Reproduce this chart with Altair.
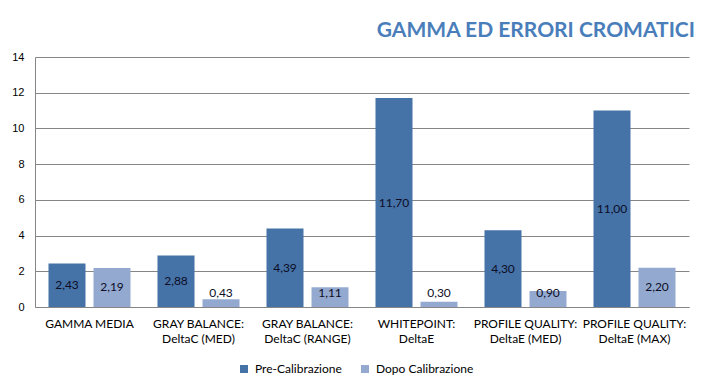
import altair as alt
import pandas as pd

categories = [
    "GAMMA MEDIA",
    "GRAY BALANCE:|DeltaC (MED)",
    "GRAY BALANCE:|DeltaC (RANGE)",
    "WHITEPOINT:|DeltaE",
    "PROFILE QUALITY:|DeltaE (MED)",
    "PROFILE QUALITY:|DeltaE (MAX)",
]
series = ["Pre-Calibrazione", "Dopo Calibrazione"]
pre_values = [2.43, 2.88, 4.39, 11.70, 4.30, 11.00]
post_values = [2.19, 0.43, 1.11, 0.30, 0.90, 2.20]
y_ticks = [0, 2, 4, 6, 8, 10, 12, 14]
colors = ["#4572A7", "#93A9CF"]

rows = []
for c, a, b in zip(categories, pre_values, post_values):
    rows.append({"cat": c, "serie": series[0], "v": a})
    rows.append({"cat": c, "serie": series[1], "v": b})
df = pd.DataFrame(rows)

FONT = "Lato"

x = alt.X("cat:N", sort=categories, title=None,
          scale=alt.Scale(paddingInner=0, paddingOuter=0),
          axis=alt.Axis(labelExpr="split(datum.label, '|')", labelAngle=0,
                        labelFont=FONT, labelFontSize=12, labelColor="#000000",
                        labelPadding=11, labelLineHeight=15, labelBaseline="top",
                        ticks=False, domainColor="#868686", labelLimit=200))
xo = alt.XOffset("serie:N", sort=series,
                 scale=alt.Scale(paddingInner=0.178, paddingOuter=0.3))

yaxis = alt.Axis(values=y_ticks, ticks=False, labelOverlap=False,
                 labelFont="Liberation Sans", labelFontSize=11,
                 labelColor="#000000", labelPadding=11,
                 gridColor="#868686", domainColor="#868686")
yscale = alt.Scale(domain=[0, 14], nice=False)

base = alt.Chart(df)

bars = base.mark_bar().encode(
    x=x,
    xOffset=xo,
    y=alt.Y("v:Q", title=None, scale=yscale, axis=yaxis),
    color=alt.Color("serie:N", sort=series,
                    scale=alt.Scale(domain=series, range=colors),
                    legend=alt.Legend(title=None, orient="none", direction="horizontal",
                                      legendX=203, legendY=306,
                                      symbolType="square", symbolSize=64,
                                      symbolStrokeWidth=0,
                                      labelFont=FONT, labelFontSize=12,
                                      labelColor="#000000", labelOffset=5,
                                      columnPadding=17)),
)

labels = base.transform_calculate(
    lbl="replace(format(datum.v, '.2f'), '.', ',')",
    ly="max(datum.v / 2, 0.8)",
).mark_text(font=FONT, fontSize=12, color="#0d0d26", baseline="middle").encode(
    x=x,
    xOffset=xo,
    y=alt.Y("ly:Q", title=None, scale=yscale, axis=yaxis),
    text="lbl:N",
)

chart = (bars + labels).properties(
    width=654,
    height=250,
    padding={"left": 27, "top": 49, "right": 8, "bottom": 75},
    autosize=alt.AutoSizeParams(type="none"),
    title=alt.TitleParams("GAMMA ED ERRORI CROMATICI", anchor="end", font=FONT,
                          fontSize=21, fontWeight="bold", color="#4A7EBB",
                          baseline="alphabetic", offset=10, dx=6, dy=17),
).configure_view(stroke=None).configure_axis(gridWidth=1, domainWidth=1)

chart.save("out.html", embed_options={"renderer": "svg", "actions": False})
